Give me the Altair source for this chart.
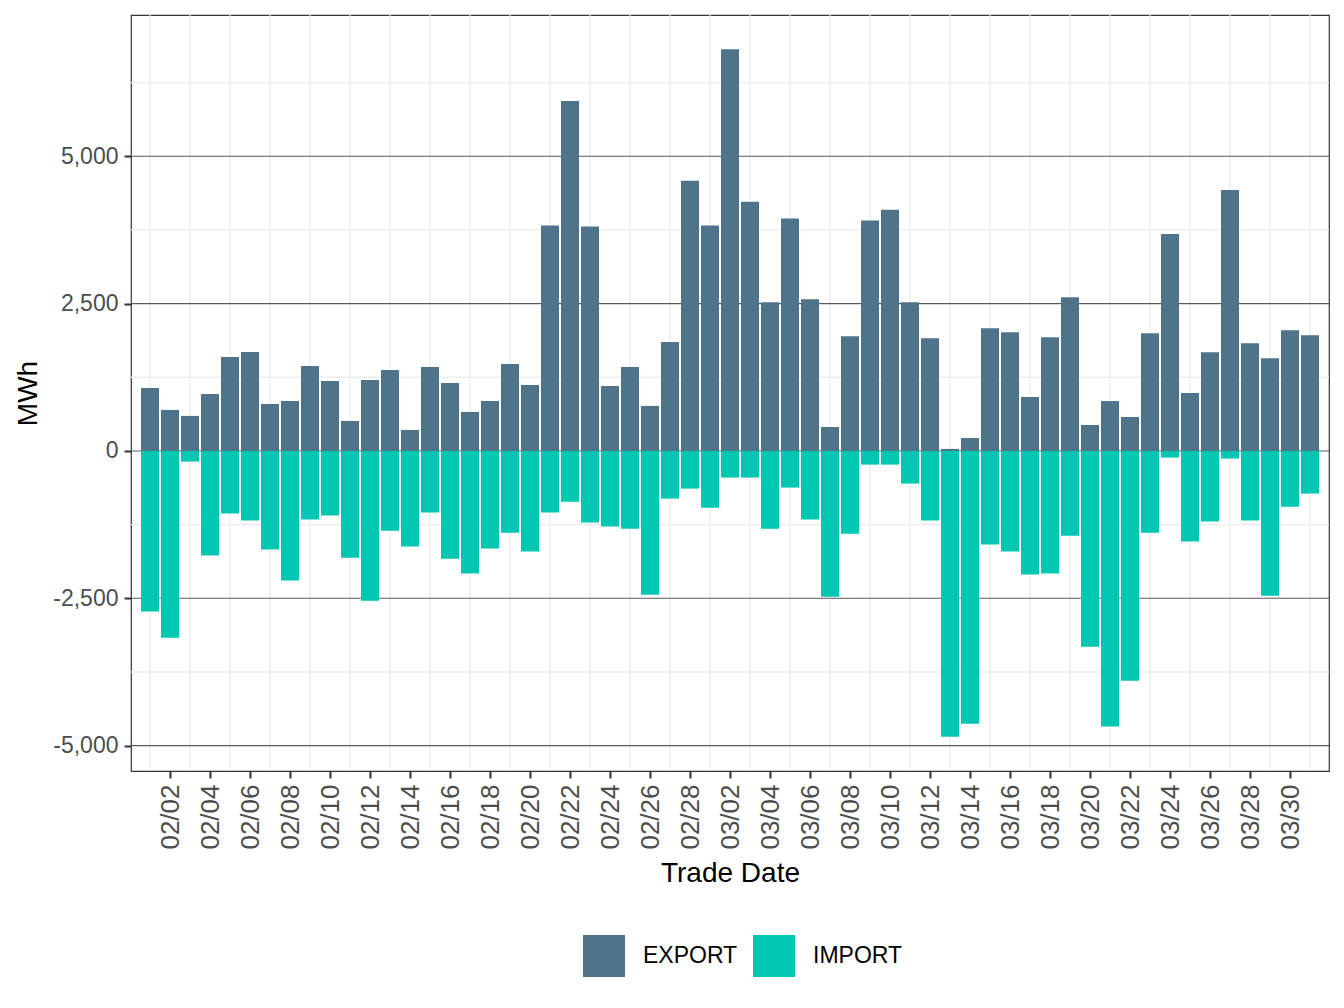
import altair as alt
import pandas as pd

# ---- data ----
dates = pd.date_range("2021-02-01", "2021-03-31", freq="D")
export_mwh = [1069, 696, 594, 967, 1595, 1680, 797, 848, 1442, 1188,
              509, 1205, 1374, 356, 1425, 1154, 662, 848, 1476, 1120,
              3823, 5935, 3806, 1103, 1425, 764, 1849, 4583,
              3823, 6813, 4229, 2522, 3942, 2573, 406, 1947, 3908, 4094,
              2522, 1913, 34, 220, 2082, 2015, 914, 1930, 2607, 440,
              846, 576, 1998, 3682, 982, 1676, 4425, 1828, 1574, 2048, 1964]
import_mwh = [-2726, -3170, -181, -1776, -1063, -1182, -1674, -2200, -1165, -1097,
              -1810, -2540, -1352, -1623, -1046, -1827, -2081, -1657, -1386, -1708,
              -1046, -860, -1216, -1284, -1318, -2438, -809, -639,
              -962, -452, -452, -1318, -622, -1165, -2472, -1403, -232, -232,
              -554, -1182, -4847, -4627, -1589, -1708, -2098, -2081, -1437, -3320,
              -4677, -3897, -1386, -113, -1538, -1199, -130, -1182, -2455, -945, -724]
flows = ["EXPORT", "IMPORT"]
flow_colors = ["#4F7389", "#00C7B1"]

y_major = [-5000, -2500, 0, 2500, 5000]
y_minor = [-3750, -1250, 1250, 3750, 6250]
x_label_days = list(range(1, len(dates), 2))   # 02/02, 02/04, ...
x_grid_days = list(range(0, len(dates), 2))    # 02/01, 02/03, ...

# ---- tables ----
days = list(range(len(dates)))
bars_df = pd.concat([
    pd.DataFrame({"day": days, "date": dates.strftime("%m/%d"), "value": export_mwh, "flow": "EXPORT"}),
    pd.DataFrame({"day": days, "date": dates.strftime("%m/%d"), "value": import_mwh, "flow": "IMPORT"}),
])

lo, hi = min(import_mwh), max(export_mwh)
ext = 0.05 * (hi - lo)
y_scale = alt.Scale(domain=[lo - ext, hi + ext], nice=False, zero=False)
x_scale = alt.Scale(domain=[-0.95, len(dates) - 1 + 0.95], nice=False, zero=False)

x_axis = alt.Axis(values=x_label_days, grid=False, domain=False,
                  labelExpr="timeFormat(datetime(2021, 1, 1 + datum.value), '%m/%d')",
                  labelAngle=270, labelFontSize=26, labelColor="#4D4D4D",
                  labelPadding=6, tickSize=7, tickWidth=2, tickColor="#333333",
                  titleFontSize=28, titleColor="#000000", titleFontWeight="normal",
                  titleX=599, titleY=110, titleBaseline="alphabetic", titleAlign="center",
                  labelFlush=False, labelOverlap=False)
y_axis = alt.Axis(values=y_major, grid=False, domain=False,
                  labelExpr="replace(format(datum.value, ','), '\u2212', '-')",
                  labelFontSize=23, labelColor="#4D4D4D", labelPadding=6,
                  tickSize=7, tickWidth=2, tickColor="#333333",
                  titleFontSize=28, titleColor="#000000", titleFontWeight="normal",
                  titleAngle=270, titleX=-95, titleY=378, titleBaseline="alphabetic",
                  titleAlign="center")

vgrid = alt.Chart(pd.DataFrame({"day": x_grid_days})).mark_rule(
    color="#EBEBEB", strokeWidth=1.3
).encode(x=alt.X("day:Q", scale=x_scale, axis=x_axis, title="Trade Date"))

hminor = alt.Chart(pd.DataFrame({"v": y_minor})).mark_rule(
    color="#EBEBEB", strokeWidth=1.3
).encode(y=alt.Y("v:Q", scale=y_scale, axis=y_axis, title="MWh"))

hmajor = alt.Chart(pd.DataFrame({"v": y_major})).mark_rule(
    color="#5A5A5A", strokeWidth=1.1
).encode(y=alt.Y("v:Q", scale=y_scale, axis=y_axis, title="MWh"))

bars = alt.Chart(bars_df).transform_calculate(
    x0="datum.day - 0.45", x1="datum.day + 0.45", base="0"
).mark_rect().encode(
    x=alt.X("x0:Q", scale=x_scale, axis=x_axis, title="Trade Date"),
    x2="x1:Q",
    y=alt.Y("value:Q", scale=y_scale, axis=y_axis, title="MWh"),
    y2="base:Q",
    color=alt.Color("flow:N", scale=alt.Scale(domain=flows, range=flow_colors),
                    legend=alt.Legend(title=None, orient="none", direction="horizontal",
                                      legendX=452, legendY=920, symbolType="square",
                                      symbolSize=1764, symbolStrokeWidth=0, symbolOpacity=1,
                                      labelFontSize=23, labelColor="#000000", labelOffset=18,
                                      columnPadding=15, padding=0)),
)

chart = alt.layer(vgrid, hminor, hmajor, bars).properties(
    width=1198, height=756,
    autosize=alt.AutoSizeParams(type="none"),
    padding={"left": 131, "top": 15, "right": 15, "bottom": 237},
).configure(font="Liberation Sans").configure_view(
    stroke="#333333", strokeWidth=1.2
)

chart.save("out.html", embed_options={"renderer": "svg", "actions": False})
